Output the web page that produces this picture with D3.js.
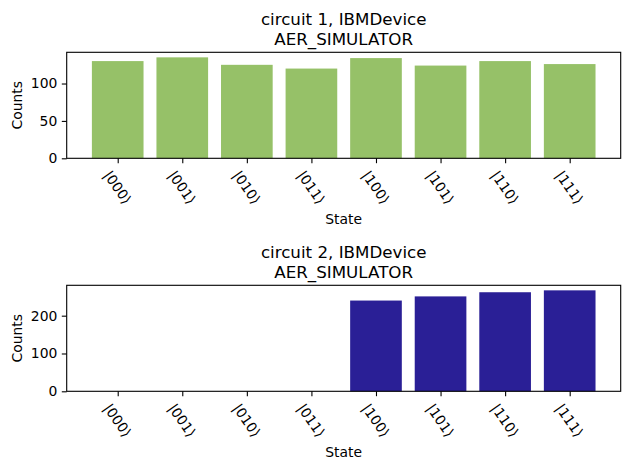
<!DOCTYPE html>
<html>
<head>
<meta charset="utf-8">
<script src="https://cdn.jsdelivr.net/npm/d3@7"></script>
<style>
  body { margin: 0; background: #fff; }
  svg { font-family: "DejaVu Sans", sans-serif; }
</style>
</head>
<body>
<div id="chart"></div>
<script>
// States measured and counts per circuit
const states = ['|000⟩', '|001⟩', '|010⟩', '|011⟩', '|100⟩', '|101⟩', '|110⟩', '|111⟩'];
const counts1 = [130, 135, 125, 120, 134, 124, 130, 126];
const counts2 = [0, 0, 0, 0, 240, 251, 262, 267];
const titles1 = ['circuit 1, IBMDevice', 'AER_SIMULATOR'];
const titles2 = ['circuit 2, IBMDevice', 'AER_SIMULATOR'];
const yTicks1 = [0, 50, 100];
const yTicks2 = [0, 100, 200];

const W = 630, H = 469;
const svg = d3.select('#chart').append('svg')
  .attr('width', W)
  .attr('height', H);

function drawPanel(top, values, ticks, titleLines, color) {
  const left = 66.7, right = 620.7, height = 106;
  const bottom = top + height;

  const x = d3.scaleLinear()
    .domain([-0.79, states.length - 1 + 0.79])
    .range([left, right]);
  const y = d3.scaleLinear()
    .domain([0, d3.max(values) * 1.05])
    .range([bottom, top]);

  const g = svg.append('g');

  // bars
  g.selectAll('.bar')
    .data(values)
    .enter()
    .append('rect')
    .attr('x', (d, i) => x(i - 0.4))
    .attr('width', (d, i) => x(i + 0.4) - x(i - 0.4))
    .attr('y', d => y(d))
    .attr('height', d => bottom - y(d))
    .attr('fill', color);

  // frame
  g.append('rect')
    .attr('x', left)
    .attr('y', top)
    .attr('width', right - left)
    .attr('height', height)
    .attr('fill', 'none')
    .attr('stroke', '#000')
    .attr('stroke-width', 1.1);

  // y axis
  const yAxis = g.append('g')
    .attr('transform', `translate(${left},0)`)
    .call(d3.axisLeft(y).tickValues(ticks).tickSize(4.9).tickPadding(4.5).tickFormat(d3.format('d')));
  yAxis.select('.domain').remove();
  yAxis.selectAll('line').attr('stroke-width', 1.1);
  yAxis.selectAll('text')
    .style('font-size', '13.9px')
    .style('font-family', '"DejaVu Sans", sans-serif')
    .attr('fill', '#000');

  // x axis ticks
  const xAxis = g.append('g')
    .attr('transform', `translate(0,${bottom})`)
    .call(d3.axisBottom(x).tickValues(d3.range(states.length)).tickSize(4.9).tickFormat(''));
  xAxis.select('.domain').remove();
  xAxis.selectAll('line').attr('stroke-width', 1.1);

  // rotated tick labels, bbox centered on tick with top under it
  const labelTop = bottom + 10;
  const angle = 55;
  const rad = angle * Math.PI / 180;
  states.forEach((s, i) => {
    const t = g.append('text')
      .attr('text-anchor', 'middle')
      .attr('dominant-baseline', 'central')
      .style('font-size', '13.9px')
      .attr('fill', '#000')
      .text(s);
    const w = t.node().getComputedTextLength();
    const h = 14;
    const bh = w * Math.sin(rad) + h * Math.cos(rad);
    t.attr('transform', `translate(${x(i)},${labelTop + bh / 2}) rotate(${angle})`);
  });

  // x label
  g.append('text')
    .attr('x', (left + right) / 2)
    .attr('y', bottom + 66)
    .attr('text-anchor', 'middle')
    .style('font-size', '13.9px')
    .text('State');

  // y label
  g.append('text')
    .attr('transform', `translate(22,${(top + bottom) / 2}) rotate(-90)`)
    .attr('text-anchor', 'middle')
    .style('font-size', '13.9px')
    .text('Counts');

  // title
  titleLines.forEach((line, k) => {
    g.append('text')
      .attr('x', (left + right) / 2)
      .attr('y', top - 7 - (titleLines.length - 1 - k) * 20.5)
      .attr('text-anchor', 'middle')
      .style('font-size', '16.7px')
      .text(line);
  });
}

drawPanel(52.3, counts1, yTicks1, titles1, '#96c168');
drawPanel(285.3, counts2, yTicks2, titles2, '#2a1f96');
</script>
</body>
</html>
